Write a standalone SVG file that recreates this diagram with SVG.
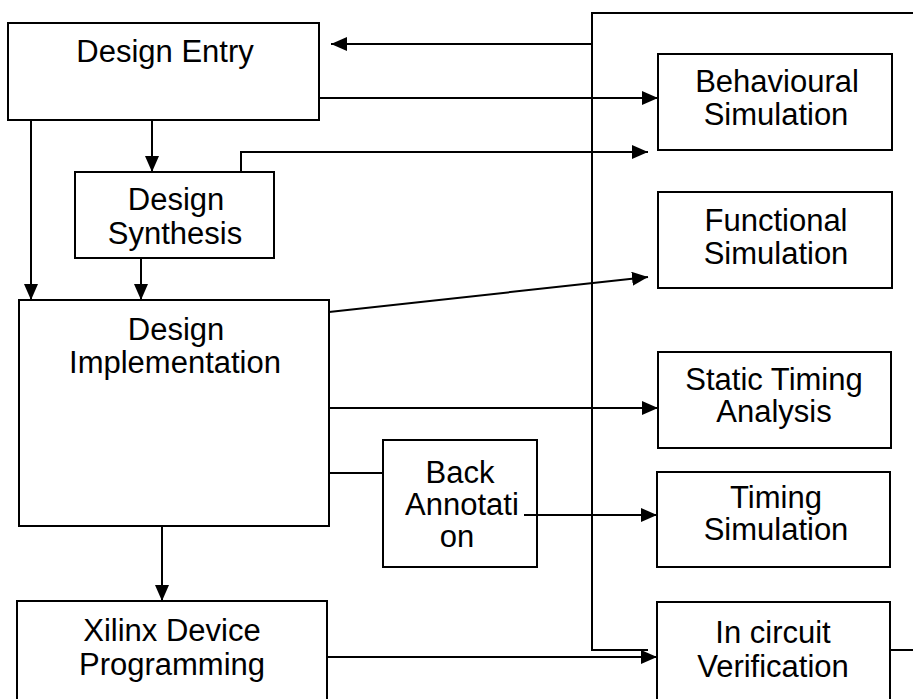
<svg xmlns="http://www.w3.org/2000/svg" width="913" height="699" viewBox="0 0 913 699">
<style>
.box{fill:#fff;stroke:#000;stroke-width:2}
.ln{fill:none;stroke:#000;stroke-width:2}
text{font-family:"Liberation Sans",Arial,sans-serif;font-size:31px;fill:#000;text-anchor:middle}
</style>
<defs>
<marker id="ah" viewBox="0 0 16 14" refX="16" refY="7" markerWidth="16" markerHeight="14" markerUnits="userSpaceOnUse" orient="auto">
<path d="M0,0 L16,7 L0,14 z" fill="#000"/>
</marker>
</defs>
<rect width="913" height="699" fill="#fff"/>
<g id="design-entry">
<rect class="box" x="8" y="23" width="311" height="97"/>
<text x="165" y="62">Design Entry</text>
</g>
<g id="design-synthesis">
<rect class="box" x="75" y="172" width="199" height="86"/>
<text x="176" y="210">Design</text>
<text x="175" y="244">Synthesis</text>
</g>
<g id="design-implementation">
<rect class="box" x="19" y="300" width="310" height="226"/>
<text x="176" y="340">Design</text>
<text x="175" y="373">Implementation</text>
</g>
<g id="xilinx-device-programming">
<rect class="box" x="17" y="601" width="310" height="120"/>
<text x="172" y="641">Xilinx Device</text>
<text x="172" y="675">Programming</text>
</g>
<g id="back-annotation">
<rect class="box" x="383" y="440" width="154" height="127"/>
<text x="460" y="483">Back</text>
<text x="462" y="515">Annotati</text>
<text x="457" y="547">on</text>
</g>
<g id="behavioural-simulation">
<rect class="box" x="658" y="54" width="234" height="96"/>
<text x="777" y="92">Behavioural</text>
<text x="776" y="125">Simulation</text>
</g>
<g id="functional-simulation">
<rect class="box" x="658" y="192" width="234" height="96"/>
<text x="776" y="231">Functional</text>
<text x="776" y="264">Simulation</text>
</g>
<g id="static-timing-analysis">
<rect class="box" x="658" y="352" width="233" height="96"/>
<text x="774" y="390">Static Timing</text>
<text x="774" y="422">Analysis</text>
</g>
<g id="timing-simulation">
<rect class="box" x="657" y="472" width="233" height="95"/>
<text x="776" y="508">Timing</text>
<text x="776" y="540">Simulation</text>
</g>
<g id="in-circuit-verification">
<rect class="box" x="657" y="602" width="233" height="120"/>
<text x="773" y="643">In circuit</text>
<text x="773" y="677">Verification</text>
</g>
<g id="connectors">
<path class="ln" d="M913,13 H592 V650 H648"/>
<path class="ln" d="M592,44 H331" marker-end="url(#ah)"/>
<path class="ln" d="M319,98 H658" marker-end="url(#ah)"/>
<path class="ln" d="M241,172 V152 H648" marker-end="url(#ah)"/>
<path class="ln" d="M152,120 V172" marker-end="url(#ah)"/>
<path class="ln" d="M31,120 V300" marker-end="url(#ah)"/>
<path class="ln" d="M141,258 V300" marker-end="url(#ah)"/>
<path class="ln" d="M329,312 L648,277" marker-end="url(#ah)"/>
<path class="ln" d="M329,408 H658" marker-end="url(#ah)"/>
<path class="ln" d="M329,473 H383"/>
<path class="ln" d="M524,515 H657" marker-end="url(#ah)"/>
<path class="ln" d="M162,526 V601" marker-end="url(#ah)"/>
<path class="ln" d="M327,657 H657" marker-end="url(#ah)"/>
<path class="ln" d="M890,650 H913"/>
</g>
</svg>
